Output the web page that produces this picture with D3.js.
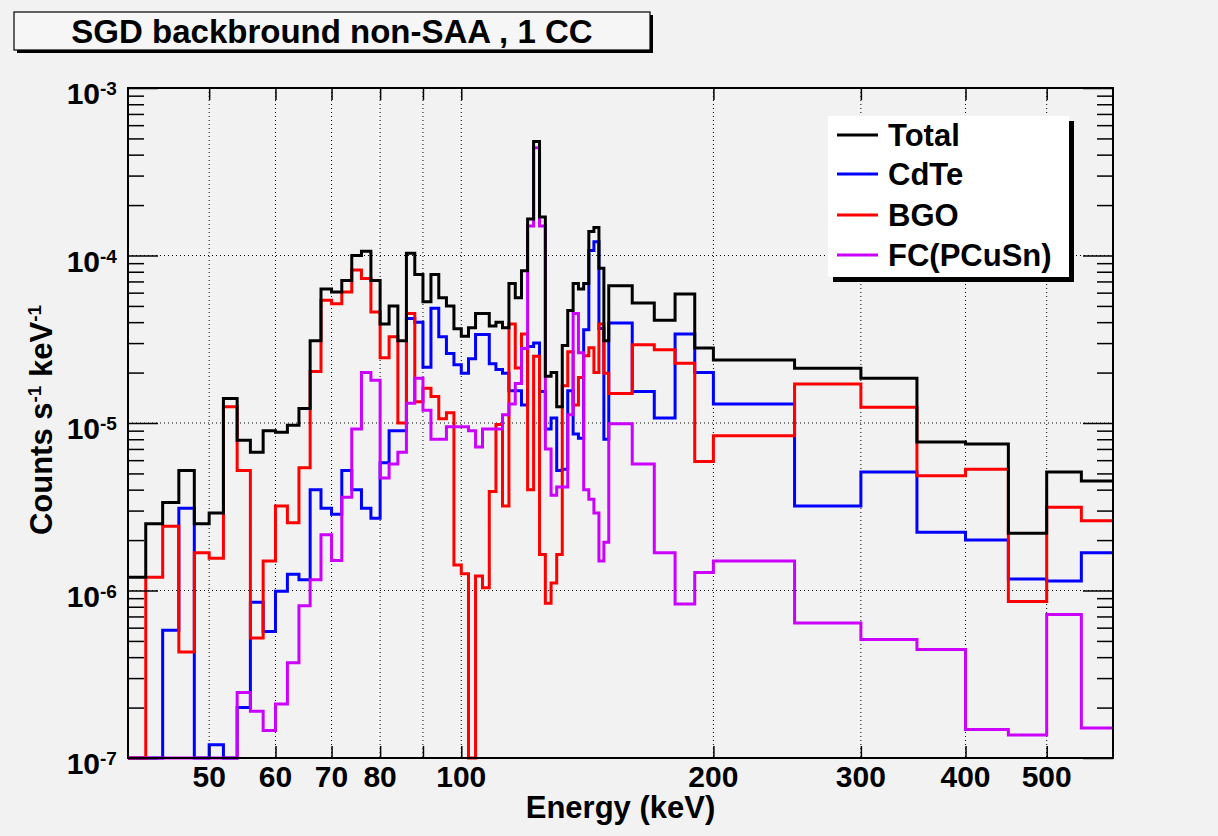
<!DOCTYPE html>
<html>
<head>
<meta charset="utf-8">
<script src="https://cdn.jsdelivr.net/npm/d3@7"></script>
<style>
  body { margin: 0; background: #f2f2f2; }
  text { font-family: "Liberation Sans", Arial, Helvetica, sans-serif; font-weight: bold; fill: #000; }
</style>
</head>
<body>
<div id="chart"></div>
<script>
// bin edges in keV (2 keV bins up to 150, then 10 keV, then 50 keV)
const binEdges = [40, 42, 44, 46, 48, 50, 52, 54, 56, 58, 60, 62, 64, 66, 68, 70, 72, 74, 76, 78,
    80, 82, 84, 86, 88, 90, 92, 94, 96, 98, 100, 102, 104, 106, 108, 110, 112, 114, 116, 118,
    120, 122, 124, 126, 128, 130, 132, 134, 136, 138, 140, 142, 144, 146, 148, 150,
    160, 170, 180, 190, 200, 250, 300, 350, 400, 450, 500, 550, 600];

// counts s^-1 keV^-1, one value per bin (0 = empty bin)
const total = [1.2e-6, 2.5e-6, 3.35e-6, 5.2e-6, 2.5e-6, 2.9e-6, 1.4e-5, 7.9e-6, 6.7e-6, 9.0e-6,
    8.8e-6, 9.7e-6, 1.22e-5, 3.1e-5, 6.3e-5, 6.05e-5, 7.1e-5, 1.0e-4, 1.06e-4, 7.1e-5,
    3.9e-5, 5.0e-5, 3.1e-5, 1.03e-4, 7.7e-5, 5.3e-5, 7.7e-5, 5.6e-5, 5.0e-5, 3.65e-5,
    3.3e-5, 3.7e-5, 4.5e-5, 4.5e-5, 3.8e-5, 4.0e-5, 3.7e-5, 6.8e-5, 5.6e-5, 8.1e-5,
    1.65e-4, 4.8e-4, 1.7e-4, 1.9e-5, 2.0e-5, 1.25e-5, 2.9e-5, 4.7e-5, 6.8e-5, 6.3e-5,
    6.8e-5, 1.39e-4, 1.47e-4, 8.4e-5, 3.1e-5, 6.6e-5, 5.2e-5, 4.1e-5, 5.9e-5, 2.8e-5,
    2.38e-5, 2.12e-5, 1.85e-5, 7.7e-6, 7.5e-6, 2.2e-6, 5.1e-6, 4.5e-6];

const cdte = [0, 0, 5.8e-7, 3.1e-6, 0, 1.2e-7, 0, 2.0e-7, 8.5e-7, 5.7e-7,
    9.9e-7, 1.25e-6, 1.16e-6, 4.0e-6, 3.1e-6, 2.85e-6, 5.2e-6, 4.0e-6, 3.1e-6, 2.7e-6,
    5.8e-6, 9.0e-6, 9.0e-6, 4.2e-5, 4.0e-5, 2.15e-5, 4.85e-5, 3.27e-5, 2.6e-5, 2.23e-5,
    1.98e-5, 2.42e-5, 3.37e-5, 3.37e-5, 2.26e-5, 2.09e-5, 1.98e-5, 1.56e-5, 1.56e-5, 1.28e-5,
    2.86e-5, 3.0e-5, 1.54e-5, 9.2e-6, 1.07e-5, 5.2e-6, 5.3e-6, 1.56e-5, 8.6e-6, 8.1e-6,
    3.6e-5, 1.07e-4, 1.21e-4, 3.66e-5, 8.0e-6, 3.95e-5, 1.54e-5, 1.07e-5, 3.4e-5, 2.0e-5,
    1.3e-5, 3.2e-6, 5.1e-6, 2.23e-6, 2.0e-6, 1.17e-6, 1.14e-6, 1.68e-6];

const bgo = [0, 1.2e-6, 2.42e-6, 4.3e-7, 1.68e-6, 1.56e-6, 1.25e-5, 5.2e-6, 5.2e-7, 1.5e-6,
    3.2e-6, 2.54e-6, 5.4e-6, 2.03e-5, 5.4e-5, 5.15e-5, 6.05e-5, 8.2e-5, 7.3e-5, 4.6e-5,
    2.45e-5, 3.27e-5, 1.0e-5, 4.5e-5, 1.34e-5, 1.61e-5, 1.44e-5, 1.06e-5, 1.15e-5, 1.42e-6,
    1.26e-6, 0, 1.22e-6, 1.04e-6, 3.9e-6, 9.8e-6, 3.2e-6, 3.9e-5, 2.13e-5, 3.4e-5,
    4.0e-6, 2.5e-5, 1.64e-6, 8.4e-7, 1.11e-6, 1.64e-6, 1.67e-5, 2.66e-5, 1.28e-5, 1.87e-5,
    2.52e-5, 2.81e-5, 2.0e-5, 3.9e-5, 1.98e-5, 1.5e-5, 2.93e-5, 2.74e-5, 2.27e-5, 5.9e-6,
    8.4e-6, 1.71e-5, 1.24e-5, 4.85e-6, 5.3e-6, 8.6e-7, 3.14e-6, 2.61e-6];

const fc = [0, 0, 0, 0, 0, 0, 0, 2.46e-7, 1.9e-7, 1.46e-7,
    2.1e-7, 3.7e-7, 8.1e-7, 1.16e-6, 2.15e-6, 1.51e-6, 3.6e-6, 9.2e-6, 2.0e-5, 1.8e-5,
    4.7e-6, 5.7e-6, 6.7e-6, 1.31e-5, 1.85e-5, 1.19e-5, 8.0e-6, 8.0e-6, 9.5e-6, 9.5e-6,
    9.5e-6, 9.0e-6, 7.2e-6, 9.2e-6, 9.2e-6, 9.2e-6, 1.12e-5, 1.3e-5, 1.72e-5, 2.78e-5,
    1.5e-4, 4.4e-4, 1.5e-4, 7.0e-6, 3.7e-6, 4.15e-6, 4.15e-6, 1.12e-5, 4.5e-5, 2.63e-5,
    4.0e-6, 3.5e-6, 2.9e-6, 1.5e-6, 1.94e-6, 9.9e-6, 5.7e-6, 1.68e-6, 8.3e-7, 1.28e-6,
    1.5e-6, 6.4e-7, 5.1e-7, 4.45e-7, 1.48e-7, 1.37e-7, 7.2e-7, 1.51e-7];

const xTicks = [50, 60, 70, 80, 90, 100, 200, 300, 400, 500];
const xTickLabels = ["50", "60", "70", "80", "", "100", "200", "300", "400", "500"];
const yDecades = [-7, -6, -5, -4, -3];

const seriesNames = ["Total", "CdTe", "BGO", "FC(PCuSn)"];
const seriesColors = ["#000000", "#0000ff", "#ff0000", "#cc00ff"];
const seriesData = [total, cdte, bgo, fc];

const W = 1218, H = 836;
const frame = { left: 128, right: 1113, top: 88, bottom: 758 };

const svg = d3.select("#chart").append("svg")
    .attr("width", W)
    .attr("height", H);

svg.append("rect").attr("width", W).attr("height", H).attr("fill", "#f2f2f2");

const x = d3.scaleLog().domain([40, 600]).range([frame.left, frame.right]);
const y = d3.scaleLog().domain([1e-7, 1e-3]).range([frame.bottom, frame.top]).clamp(true);
const yv = v => v > 1e-7 ? y(v) : y(1e-7);

// grid
const grid = svg.append("g")
    .attr("stroke", "#000")
    .attr("stroke-width", 1)
    .attr("stroke-dasharray", "1,3");

grid.selectAll("line.gx")
    .data(xTicks)
    .join("line")
    .attr("x1", d => x(d)).attr("x2", d => x(d))
    .attr("y1", frame.top).attr("y2", frame.bottom);

grid.selectAll("line.gy")
    .data([1e-6, 1e-5, 1e-4])
    .join("line")
    .attr("class", "gy")
    .attr("x1", frame.left).attr("x2", frame.right)
    .attr("y1", d => y(d)).attr("y2", d => y(d));

// histograms, drawn as steps
const line = d3.line()
    .x(d => x(d[0]))
    .y(d => yv(d[1]))
    .curve(d3.curveStepAfter);

const drawOrder = [1, 2, 3, 0];
for(const i of drawOrder)
{
    const vals = seriesData[i];
    const pts = binEdges.map((e, k) => [e, vals[Math.min(k, vals.length - 1)]]);
    svg.append("path")
        .datum(pts)
        .attr("d", line)
        .attr("fill", "none")
        .attr("stroke", seriesColors[i])
        .attr("stroke-width", 3);
}

// axes: ticks on all four sides
const yMinor = y.ticks().filter(t => Math.abs(Math.log10(t) - Math.round(Math.log10(t))) > 1e-6);
const yMajor = yDecades.map(p => Math.pow(10, p));

function tickAxis(axis, tx, ty)
{
    const g = svg.append("g").attr("transform", `translate(${tx},${ty})`).call(axis);
    g.select(".domain").remove();
    g.selectAll("line").attr("stroke", "#000").attr("stroke-width", 1.5);
    return g;
}

tickAxis(d3.axisRight(y).tickValues(yMinor).tickSize(16).tickFormat(""), frame.left, 0);
tickAxis(d3.axisRight(y).tickValues(yMajor).tickSize(30).tickFormat(""), frame.left, 0);
tickAxis(d3.axisLeft(y).tickValues(yMinor).tickSize(16).tickFormat(""), frame.right, 0);
tickAxis(d3.axisLeft(y).tickValues(yMajor).tickSize(30).tickFormat(""), frame.right, 0);
tickAxis(d3.axisTop(x).tickValues(xTicks).tickSize(12).tickFormat(""), 0, frame.bottom);
tickAxis(d3.axisBottom(x).tickValues(xTicks).tickSize(12).tickFormat(""), 0, frame.top);

svg.append("rect")
    .attr("x", frame.left).attr("y", frame.top)
    .attr("width", frame.right - frame.left).attr("height", frame.bottom - frame.top)
    .attr("fill", "none").attr("stroke", "#000").attr("stroke-width", 2);

// tick labels
svg.append("g").selectAll("text")
    .data(xTicks)
    .join("text")
    .attr("x", d => x(d))
    .attr("y", 787)
    .attr("text-anchor", "middle")
    .style("font-size", "30px")
    .text((d, i) => xTickLabels[i]);

svg.append("g").selectAll("text")
    .data(yDecades)
    .join("text")
    .attr("x", 100)
    .attr("y", d => y(Math.pow(10, d)) + 16)
    .attr("text-anchor", "end")
    .style("font-size", "30px")
    .text("10");

svg.append("g").selectAll("text")
    .data(yDecades)
    .join("text")
    .attr("x", 100)
    .attr("y", d => y(Math.pow(10, d)) + 7)
    .style("font-size", "19px")
    .text(d => "-" + Math.abs(d));

// axis titles
svg.append("text")
    .attr("x", (frame.left + frame.right) / 2)
    .attr("y", 818)
    .attr("text-anchor", "middle")
    .style("font-size", "31px")
    .text("Energy (keV)");

const yt = svg.append("text")
    .attr("transform", "translate(52,420) rotate(-90)")
    .attr("text-anchor", "middle")
    .style("font-size", "31px");
yt.append("tspan").text("Counts s");
yt.append("tspan").attr("dy", -11).style("font-size", "19px").text("-1");
yt.append("tspan").attr("dy", 11).text(" keV");
yt.append("tspan").attr("dy", -11).style("font-size", "19px").text("-1");

// title box
svg.append("rect").attr("x", 17).attr("y", 15).attr("width", 636).attr("height", 38).attr("fill", "#000");
svg.append("rect").attr("x", 14).attr("y", 12).attr("width", 636).attr("height", 38)
    .attr("fill", "#f6f6f6").attr("stroke", "#000").attr("stroke-width", 1.2);
svg.append("text")
    .attr("x", 332).attr("y", 43)
    .attr("text-anchor", "middle")
    .style("font-size", "33px")
    .text("SGD backbround non-SAA , 1 CC");

// legend
const leg = { x: 828, y: 116, w: 241, h: 161 };
svg.append("rect").attr("x", leg.x + 5).attr("y", leg.y + 5).attr("width", leg.w).attr("height", leg.h).attr("fill", "#000");
svg.append("rect").attr("x", leg.x).attr("y", leg.y).attr("width", leg.w).attr("height", leg.h).attr("fill", "#fff");

const rowY = [135, 174, 215, 255];
const legRows = svg.append("g").selectAll("g")
    .data(seriesNames)
    .join("g")
    .attr("transform", (d, i) => `translate(0,${rowY[i]})`);

legRows.append("line")
    .attr("x1", 837).attr("x2", 878)
    .attr("stroke", (d, i) => seriesColors[i])
    .attr("stroke-width", 3);

legRows.append("text")
    .attr("x", 888)
    .attr("y", 11)
    .style("font-size", "31px")
    .text(d => d);
</script>
</body>
</html>
